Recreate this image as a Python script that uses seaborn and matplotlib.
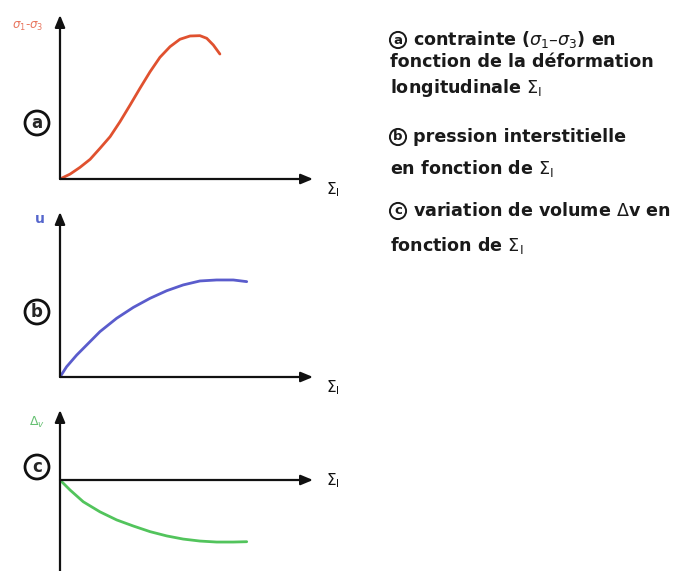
import numpy as np
import pandas as pd
import matplotlib
matplotlib.use("Agg")
import matplotlib.pyplot as plt
import seaborn as sns

# Longitudinal strain (Σ1) sample positions and the three responses
strain_a = [0, 0.40, 0.79, 1.19, 1.58, 1.98, 2.37, 2.77, 3.16, 3.56, 3.95,
            4.35, 4.74, 5.14, 5.53, 5.80, 6.06, 6.32]
deviator = [0, 0.30, 0.71, 1.20, 1.87, 2.58, 3.49, 4.51, 5.53, 6.54, 7.42,
            8.07, 8.52, 8.72, 8.74, 8.58, 8.17, 7.62]

strain_b = [0, 0.26, 0.66, 1.12, 1.58, 2.24, 2.90, 3.56, 4.22, 4.87, 5.53,
            6.19, 6.85, 7.38]
pore_pressure = [0, 0.62, 1.33, 2.04, 2.75, 3.56, 4.22, 4.77, 5.23, 5.58,
                 5.82, 5.88, 5.88, 5.78]

strain_c = [0, 0.40, 0.92, 1.58, 2.24, 2.90, 3.56, 4.22, 4.87, 5.53, 6.19,
            6.85, 7.38]
volume_change = [0, -0.61, -1.32, -1.93, -2.42, -2.79, -3.13, -3.39, -3.58,
                 -3.70, -3.76, -3.76, -3.74]

panel_tags = ["a", "b", "c"]
y_labels = [r"$\sigma_1$-$\sigma_3$", "u", r"$\Delta_v$"]
x_label = r"$\Sigma_\mathrm{I}$"
line_colors = ["#e0512f", "#5a5ccc", "#52c45c"]
label_colors = ["#e8755e", "#5566cc", "#66c072"]

legend_lines = [
    ("a", r"contrainte ($\sigma_1$–$\sigma_3$) en"),
    (None, "fonction de la déformation"),
    (None, r"longitudinale $\Sigma_\mathrm{I}$"),
    ("b", "pression interstitielle"),
    (None, r"en fonction de $\Sigma_\mathrm{I}$"),
    ("c", r"variation de volume $\Delta$v en"),
    (None, r"fonction de $\Sigma_\mathrm{I}$"),
]
legend_rows_px = [40, 62, 88, 137, 168, 211, 246]

W, H = 700, 571
sns.set_theme(style="white")
plt.rcParams["font.family"] = ["DejaVu Sans"]
fig = plt.figure(figsize=(W / 100, H / 100), dpi=100)
fig.patch.set_facecolor("white")


def fx(px):
    return px / W


def fy(py):
    return 1 - py / H


def make_axes(top_px, bottom_px, ymin, ymax):
    ax = fig.add_axes([fx(60), fy(bottom_px), fx(313) - fx(60),
                       fy(top_px) - fy(bottom_px)])
    ax.set_xlim(0, 10)
    ax.set_ylim(ymin, ymax)
    ax.set_axis_off()
    return ax


def draw_arrows(ax, ybottom, ytop):
    kw = dict(arrowstyle="-|>,head_length=0.6,head_width=0.25",
              color="#111111", lw=1.6, shrinkA=0, shrinkB=0)
    ax.annotate("", xy=(10, 0), xytext=(0, 0), arrowprops=kw,
                annotation_clip=False)
    ax.annotate("", xy=(0, ytop), xytext=(0, ybottom), arrowprops=kw,
                annotation_clip=False)


ax_a = make_axes(15, 179, 0, 10)
ax_b = make_axes(212, 377, 0, 10)
ax_c = make_axes(410, 571, -91 / 16.5, 70 / 16.5)

series = [
    (ax_a, strain_a, deviator, 0),
    (ax_b, strain_b, pore_pressure, 0),
    (ax_c, strain_c, volume_change, -91 / 16.5),
]
for i, (ax, xs, ys, ybot) in enumerate(series):
    draw_arrows(ax, ybot, ax.get_ylim()[1])
    df = pd.DataFrame({"strain": xs, "value": ys})
    sns.lineplot(data=df, x="strain", y="value", ax=ax, color=line_colors[i],
                 lw=2.0, sort=False, estimator=None,
                 solid_joinstyle="round", solid_capstyle="round")
    ax.set_axis_off()

# axis labels
fig.text(fx(28), fy(26), y_labels[0], color=label_colors[0], fontsize=8.5,
         ha="center", va="center")
fig.text(fx(40), fy(219), y_labels[1], color=label_colors[1], fontsize=10,
         fontweight="bold", ha="center", va="center")
fig.text(fx(37), fy(422), y_labels[2], color=label_colors[2], fontsize=9,
         ha="center", va="center")

for py in (190, 388, 481):
    fig.text(fx(326), fy(py), x_label, color="#111111", fontsize=11,
             ha="left", va="center")

# circled panel tags
for tag, py in zip(panel_tags, (123, 312, 467)):
    fig.text(fx(37), fy(py), tag, fontsize=12, fontweight="bold",
             ha="center", va="center",
             bbox=dict(boxstyle="circle,pad=0.18", fc="white", ec="#111111",
                       lw=2.0))

# descriptive text block
for (tag, line), py in zip(legend_lines, legend_rows_px):
    if tag is not None:
        fig.text(fx(398), fy(py), tag, fontsize=9.5, fontweight="bold",
                 ha="center", va="center", color="#1a1a1a",
                 bbox=dict(boxstyle="circle,pad=0.12", fc="white",
                           ec="#1a1a1a", lw=1.4))
        x0 = 413
    else:
        x0 = 390
    fig.text(fx(x0), fy(py), line, fontsize=12.6, fontweight="bold",
             color="#1a1a1a", ha="left", va="center")

fig.savefig("out.png", dpi=100, facecolor="white")
